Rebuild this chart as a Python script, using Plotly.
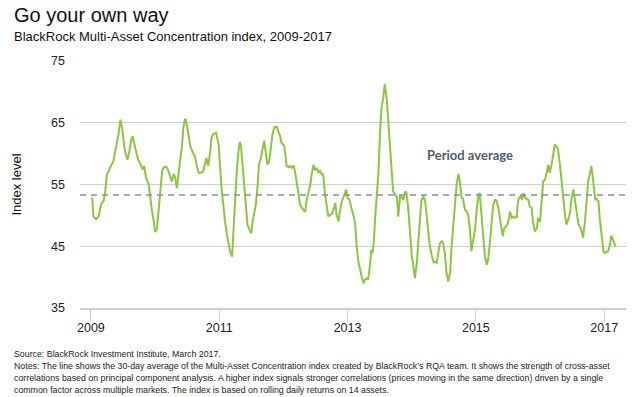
import plotly.graph_objects as go

# ---- data (decimal year, index level) ----
years = [
    2009.02, 2009.04, 2009.08, 2009.12, 2009.16, 2009.20, 2009.22, 2009.25, 2009.29, 2009.33,
    2009.35, 2009.40, 2009.43, 2009.46, 2009.49, 2009.53, 2009.57, 2009.60, 2009.63, 2009.65,
    2009.68, 2009.71, 2009.74, 2009.78, 2009.81, 2009.83, 2009.86, 2009.90, 2009.92, 2009.95,
    2009.98, 2010.00, 2010.03, 2010.05, 2010.08, 2010.11, 2010.13, 2010.17, 2010.20, 2010.24,
    2010.26, 2010.29, 2010.31, 2010.34, 2010.37, 2010.39, 2010.42, 2010.44, 2010.47, 2010.49,
    2010.52, 2010.55, 2010.59, 2010.62, 2010.65, 2010.68, 2010.71, 2010.75, 2010.80, 2010.83,
    2010.86, 2010.88, 2010.91, 2010.95,
    2010.99, 2011.01, 2011.04, 2011.07, 2011.09, 2011.13, 2011.17, 2011.20, 2011.22, 2011.25,
    2011.27, 2011.30, 2011.32, 2011.34, 2011.36, 2011.39, 2011.42, 2011.44, 2011.47, 2011.50,
    2011.52, 2011.55, 2011.57, 2011.60, 2011.62, 2011.65, 2011.68, 2011.70, 2011.73, 2011.75,
    2011.78, 2011.80, 2011.83, 2011.86, 2011.90, 2011.92, 2011.95, 2011.97, 2012.01, 2012.03,
    2012.05, 2012.08, 2012.10, 2012.13, 2012.16, 2012.18, 2012.21, 2012.23, 2012.26, 2012.29,
    2012.31, 2012.34, 2012.36, 2012.39, 2012.42, 2012.44, 2012.47, 2012.49, 2012.52, 2012.55,
    2012.57, 2012.60, 2012.62, 2012.65, 2012.68, 2012.70, 2012.73, 2012.75, 2012.78, 2012.81,
    2012.83, 2012.86, 2012.88, 2012.91, 2012.95,
    2012.98, 2013.00, 2013.03, 2013.06, 2013.09, 2013.12, 2013.14, 2013.17, 2013.19, 2013.22,
    2013.25, 2013.27, 2013.30, 2013.32, 2013.35, 2013.37, 2013.39, 2013.41, 2013.43, 2013.45,
    2013.48, 2013.51, 2013.53, 2013.56, 2013.58, 2013.61, 2013.64, 2013.66, 2013.69, 2013.71,
    2013.74, 2013.77, 2013.79, 2013.82, 2013.84, 2013.87, 2013.90, 2013.92, 2013.95, 2013.97,
    2014.00, 2014.03, 2014.05, 2014.08, 2014.10, 2014.13, 2014.15, 2014.18, 2014.21, 2014.23,
    2014.26, 2014.28, 2014.31, 2014.34, 2014.36, 2014.39, 2014.41, 2014.44, 2014.47, 2014.49,
    2014.52, 2014.54, 2014.57, 2014.60, 2014.62, 2014.65, 2014.67, 2014.70, 2014.73, 2014.75,
    2014.78, 2014.80, 2014.83, 2014.86, 2014.88, 2014.91, 2014.93, 2014.96, 2014.99, 2015.01,
    2015.04, 2015.06,
    2015.09, 2015.12, 2015.14, 2015.17, 2015.19, 2015.22, 2015.25, 2015.27, 2015.30, 2015.32,
    2015.35, 2015.38, 2015.40, 2015.42, 2015.44, 2015.46, 2015.49, 2015.52, 2015.53, 2015.56,
    2015.58, 2015.61, 2015.64, 2015.65, 2015.67, 2015.70, 2015.72, 2015.74, 2015.77, 2015.79,
    2015.82, 2015.84, 2015.87, 2015.89, 2015.92, 2015.95, 2015.97, 2016.00, 2016.02, 2016.05,
    2016.08, 2016.10, 2016.13, 2016.15, 2016.18, 2016.21, 2016.23, 2016.26, 2016.28, 2016.31,
    2016.34, 2016.36, 2016.39, 2016.41, 2016.44, 2016.47, 2016.49, 2016.52, 2016.54, 2016.57,
    2016.60, 2016.62, 2016.65, 2016.67, 2016.70, 2016.73, 2016.75, 2016.78, 2016.80, 2016.83,
    2016.86, 2016.88, 2016.91, 2016.93, 2016.96, 2016.99, 2017.01, 2017.04, 2017.06, 2017.09,
    2017.11, 2017.14, 2017.17, 2017.18,
]

index_level = [
    52.9, 49.8, 49.4, 49.8, 51.8, 52.4, 53.6, 56.6, 57.5, 58.5,
    58.8, 61.5, 63.1, 65.5, 63.9, 60.4, 59.0, 60.4, 62.3, 62.8,
    61.2, 60.1, 59.0, 58.0, 57.4, 58.0, 56.1, 55.0, 53.1, 50.9,
    49.0, 47.3, 47.9, 50.1, 54.2, 57.1, 57.7, 57.9, 57.4, 56.1,
    55.5, 56.7, 56.3, 54.4, 56.6, 58.8, 61.2, 64.2, 65.7, 65.0,
    63.1, 61.2, 60.1, 59.6, 58.0, 56.9, 56.9, 57.1, 59.3, 58.0,
    60.4, 62.6, 63.2, 63.4,
    61.5, 57.7, 53.9, 51.2, 49.0, 46.3, 44.1, 43.3, 47.4, 51.7,
    56.6, 60.4, 61.9, 61.2, 58.8, 55.0, 51.2, 48.5, 47.7, 47.1,
    49.0, 50.6, 51.7, 55.0, 58.3, 59.3, 60.7, 62.1, 59.9, 58.2,
    58.8, 60.9, 63.1, 64.3, 64.3, 63.6, 62.8, 61.7, 61.4, 59.9,
    58.0, 57.8, 58.0, 57.7, 58.1, 57.1, 55.5, 53.9, 51.7, 51.2,
    50.9, 50.6, 52.3, 53.6, 55.0, 56.6, 58.2, 57.4, 57.6, 56.9,
    57.2, 56.6, 56.6, 53.3, 51.2, 49.8, 50.1, 50.2, 50.9, 52.0,
    50.1, 49.0, 50.6, 52.3, 53.3,
    54.2, 52.9, 52.5, 51.2, 50.1, 48.5, 45.2, 42.5, 41.4, 40.1,
    39.0, 39.6, 39.8, 39.6, 42.0, 44.4, 43.9, 45.8, 49.6, 52.0,
    56.6, 64.2, 67.4, 69.3, 71.3, 69.0, 64.7, 60.9, 56.6, 53.9,
    53.4, 53.0, 49.8, 53.3, 53.0, 52.5, 53.9, 53.6, 50.6, 47.4,
    43.6, 41.4, 39.8, 42.3, 45.8, 49.6, 52.3, 53.1, 52.3, 50.1,
    47.4, 45.2, 43.6, 42.4, 42.5, 42.3, 43.6, 45.5, 45.8, 45.5,
    43.6, 40.9, 39.3, 40.9, 44.7, 48.5, 52.3, 55.0, 56.7, 55.5,
    52.8, 52.7, 50.9, 50.6, 50.1, 47.4, 44.2, 45.8, 47.9, 50.6,
    53.3, 53.6,
    49.6, 45.8, 43.4, 42.0, 42.8, 45.8, 49.6, 51.7, 52.5, 52.4,
    51.2, 49.0, 47.4, 46.6, 47.9, 48.2, 48.5, 49.6, 50.6, 49.6,
    49.8, 49.6, 49.8, 51.7, 52.8, 53.1, 52.5, 53.6, 52.8, 52.7,
    52.5, 51.4, 51.2, 49.0, 47.4, 47.9, 49.6, 49.0, 52.3, 55.5,
    55.8, 56.6, 58.2, 56.9, 58.2, 60.1, 61.5, 61.2, 60.7, 58.2,
    55.0, 52.3, 50.1, 48.5, 49.3, 50.6, 52.5, 54.2, 52.8, 50.4,
    48.5, 48.2, 47.4, 46.4, 49.0, 52.8, 55.5, 56.9, 58.0, 55.5,
    52.5, 52.7, 52.3, 49.6, 46.4, 44.1, 43.9, 44.1, 44.2, 45.2,
    46.7, 46.0, 44.9, 44.9,
]

period_average = 53.3
x_tick_years = [2009, 2011, 2013, 2015, 2017]
y_ticks = [35, 45, 55, 65, 75]

title_text = "Go your own way"
subtitle_text = "BlackRock Multi-Asset Concentration index, 2009-2017"
y_title = "Index level"
avg_label = "Period average"
footer_lines = [
    "Source: BlackRock Investment Institute, March 2017.",
    "Notes: The line shows the 30-day average of the Multi-Asset Concentration index created by BlackRock\u2019s RQA team. It shows the strength of cross-asset",
    "correlations based on principal component analysis. A higher index signals stronger correlations (prices moving in the same direction) driven by a single",
    "common factor across multiple markets. The index is based on rolling daily returns on 14 assets.",
]

FONT = "Liberation Sans, Arial, sans-serif"
GRID = "#cfcfcf"
PW, PH = 546, 247  # plot area size in px

fig = go.Figure()
fig.add_trace(go.Scatter(
    x=years, y=index_level, mode="lines",
    line=dict(color="#8cc63e", width=2),
    hoverinfo="skip", showlegend=False,
))

fig.add_hline(y=period_average, line=dict(color="#8a8f96", width=1.5, dash="6px,5px"))

fig.update_layout(
    width=640, height=397,
    margin=dict(l=80, r=14, t=61, b=89),
    paper_bgcolor="white", plot_bgcolor="white",
    font=dict(family=FONT, color="#222"),
    showlegend=False,
    xaxis=dict(
        range=[2008.83, 2017.34],
        tickvals=x_tick_years, ticktext=[str(v) for v in x_tick_years],
        ticks="outside", ticklen=11, tickcolor=GRID, tickwidth=1,
        ticklabelstandoff=-4,
        showgrid=False, zeroline=False,
        showline=True, linecolor=GRID, linewidth=1.5,
        tickfont=dict(size=12.5, color="#222"),
        fixedrange=True,
    ),
    yaxis=dict(
        range=[35, 75],
        tickvals=y_ticks,
        showgrid=True, gridcolor=GRID, gridwidth=1,
        zeroline=False, showline=False, ticks="",
        ticklabelstandoff=14,
        tickfont=dict(size=12.5, color="#222"),
        title=dict(text=y_title, font=dict(size=13, color="#111"), standoff=26),
        fixedrange=True,
    ),
)

annotations = [
    dict(text=title_text, xref="paper", yref="paper", x=-68/PW, y=1+46/PH,
         xanchor="left", yanchor="middle", showarrow=False,
         font=dict(size=20, color="#111", family=FONT)),
    dict(text=subtitle_text, xref="paper", yref="paper", x=-68/PW, y=1+25/PH,
         xanchor="left", yanchor="middle", showarrow=False,
         font=dict(size=13, color="#111", family=FONT)),
    dict(text="<b>" + avg_label + "</b>", xref="x", yref="y", x=2014.91, y=59.85,
         xanchor="center", yanchor="middle", showarrow=False,
         font=dict(size=13, color="#4f5d6b", family="Lato, Open Sans, sans-serif")),
]
for i, line in enumerate(footer_lines):
    annotations.append(dict(
        text=line, xref="paper", yref="paper", x=-68/PW, y=-(46 + 12 * i)/PH,
        xanchor="left", yanchor="middle", showarrow=False,
        font=dict(size=8.8, color="#222", family=FONT),
    ))
fig.update_layout(annotations=annotations)

fig.write_html("out.html", config={"displayModeBar": False, "staticPlot": True},
               post_script="document.body.style.margin='0';")
